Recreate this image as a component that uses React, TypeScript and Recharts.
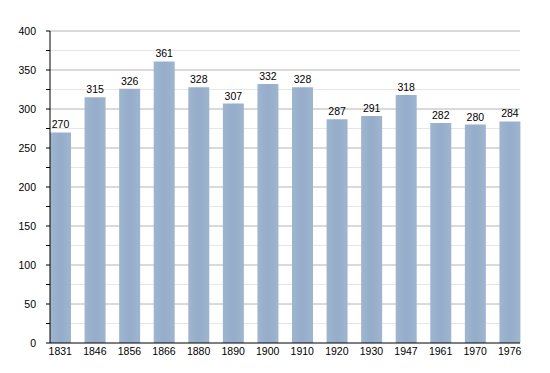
import { BarChart, Bar, XAxis, YAxis, CartesianGrid, LabelList } from 'recharts'

const YEARS = ['1831', '1846', '1856', '1866', '1880', '1890', '1900', '1910', '1920', '1930', '1947', '1961', '1970', '1976']
const POPULATION = [270, 315, 326, 361, 328, 307, 332, 328, 287, 291, 318, 282, 280, 284]
const Y_TICKS = [0, 25, 50, 75, 100, 125, 150, 175, 200, 225, 250, 275, 300, 325, 350, 375, 400]
const MAJOR_LINES = [50, 100, 150, 200, 250, 300, 350, 400]
const MINOR_LINES = [25, 75, 125, 175, 225, 275, 325, 375]

const data = YEARS.map((year, i) => ({ year, pop: POPULATION[i] }))

const FONT = '"Liberation Sans", Arial, sans-serif'

export default function App() {
  return (
    <div style={{ position: 'absolute', left: 0, top: 0, width: 550, height: 373, background: '#fff' }}>
      <BarChart width={550} height={373} data={data} margin={{ top: 31, right: 30, bottom: 0, left: 0 }}>
        <defs>
          <linearGradient id="barFill" x1="0" y1="0" x2="1" y2="0">
            <stop offset="0%" stopColor="#9fb5cf" />
            <stop offset="50%" stopColor="#95adca" />
            <stop offset="100%" stopColor="#9fb5cf" />
          </linearGradient>
        </defs>
        <CartesianGrid vertical={false} horizontalValues={MINOR_LINES} stroke="#e6e6e6" />
        <CartesianGrid vertical={false} horizontalValues={MAJOR_LINES} stroke="#b4b4b4" />
        <XAxis
          dataKey="year"
          height={30}
          padding={{ left: -7, right: -7 }}
          tickLine={false}
          tickSize={0}
          tickMargin={5}
          axisLine={{ stroke: '#000' }}
          tick={{ fontSize: 10.5, fill: '#000', fontFamily: FONT }}
          interval={0}
        />
        <YAxis
          type="number"
          domain={[0, 400]}
          ticks={Y_TICKS}
          interval={0}
          width={50}
          tickSize={4}
          tickMargin={10}
          tickFormatter={v => (v % 50 === 0 ? String(v) : '')}
          axisLine={{ stroke: '#000' }}
          tickLine={{ stroke: '#000' }}
          tick={{ fontSize: 10.5, fill: '#000', fontFamily: FONT }}
        />
        <Bar dataKey="pop" barSize={21} fill="url(#barFill)" isAnimationActive={false}>
          <LabelList dataKey="pop" position="top" offset={4} style={{ fontSize: 10.5, fill: '#000', fontFamily: FONT }} />
        </Bar>
      </BarChart>
    </div>
  )
}
